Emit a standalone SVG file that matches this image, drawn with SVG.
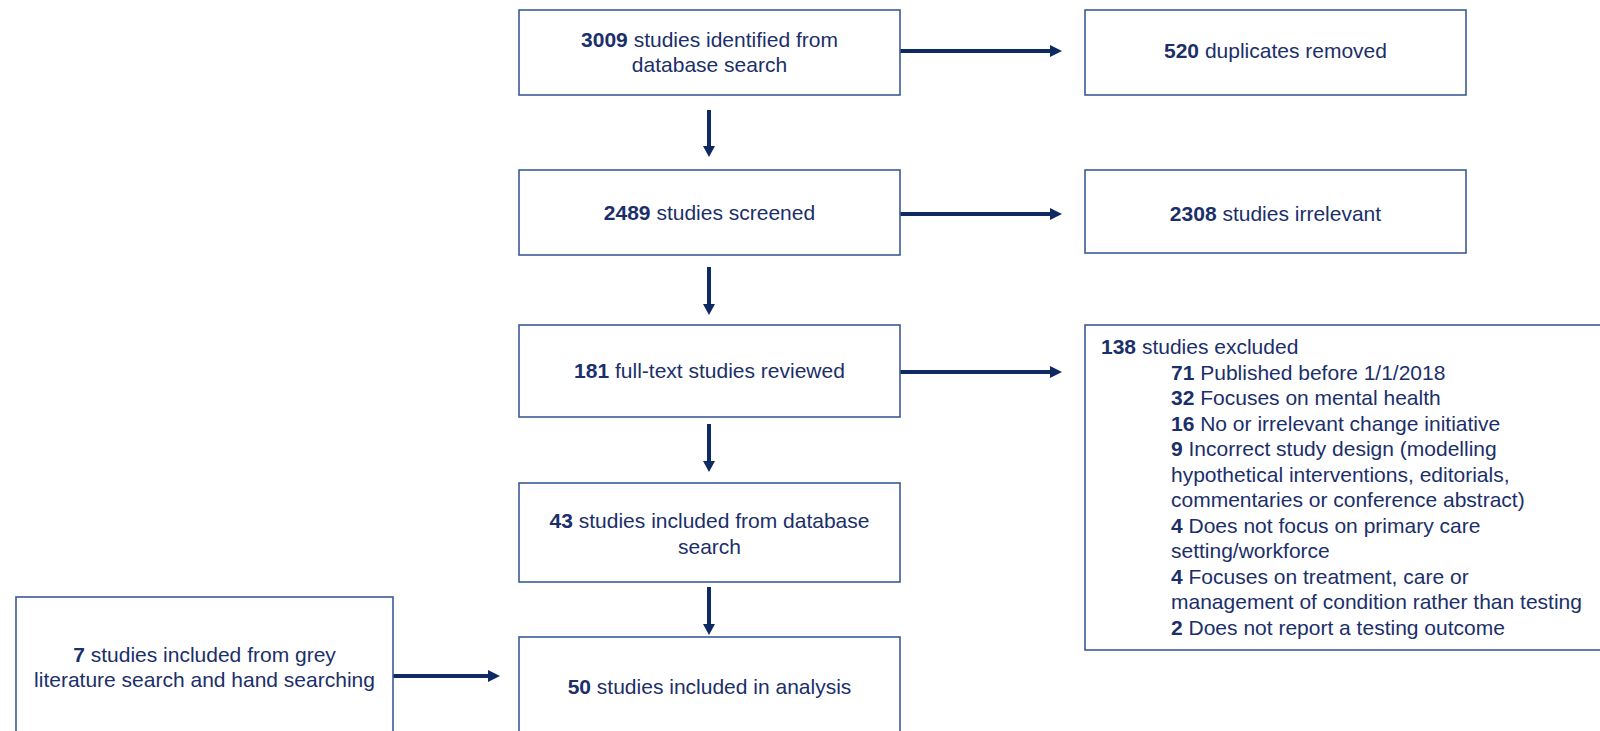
<svg xmlns="http://www.w3.org/2000/svg" width="1600" height="731" viewBox="0 0 1600 731">
<defs>
<style>
.box{fill:#ffffff;stroke:#3d5a93;stroke-width:1.6}
.t{font-family:"Liberation Sans",Arial,sans-serif;font-size:21px;fill:#1b2f6a}
.c{text-anchor:middle}
.b{font-weight:bold}
.ln{stroke:#0f2a63;stroke-width:4;fill:none}
.hd{fill:#0f2a63}
</style>
</defs>
<rect width="1600" height="731" fill="#ffffff"/>
<g id="connectors">
<line class="ln" x1="900" y1="51" x2="1052" y2="51"/><polygon class="hd" points="1062,51 1050,45 1050,57"/>
<line class="ln" x1="900" y1="214" x2="1052" y2="214"/><polygon class="hd" points="1062,214 1050,208 1050,220"/>
<line class="ln" x1="900" y1="372" x2="1052" y2="372"/><polygon class="hd" points="1062,372 1050,366 1050,378"/>
<line class="ln" x1="393" y1="676" x2="490" y2="676"/><polygon class="hd" points="500,676 488,670 488,682"/>
<line class="ln" x1="709" y1="110" x2="709" y2="148"/><polygon class="hd" points="709,157 703,146 715,146"/>
<line class="ln" x1="709" y1="267" x2="709" y2="306"/><polygon class="hd" points="709,315 703,304 715,304"/>
<line class="ln" x1="709" y1="424" x2="709" y2="463"/><polygon class="hd" points="709,472 703,461 715,461"/>
<line class="ln" x1="709" y1="587" x2="709" y2="626"/><polygon class="hd" points="709,635 703,624 715,624"/>
</g>
<g id="n1"><rect class="box" x="519" y="10" width="381" height="85"/>
<text class="t c" x="709.5" y="47"><tspan class="b">3009</tspan> studies identified from</text>
<text class="t c" x="709.5" y="72">database search</text></g>
<g id="n2"><rect class="box" x="1085" y="10" width="381" height="85"/>
<text class="t c" x="1275.5" y="58"><tspan class="b">520</tspan> duplicates removed</text></g>
<g id="n3"><rect class="box" x="519" y="170" width="381" height="85"/>
<text class="t c" x="709.5" y="220"><tspan class="b">2489</tspan> studies screened</text></g>
<g id="n4"><rect class="box" x="1085" y="170" width="381" height="83"/>
<text class="t c" x="1275.5" y="221"><tspan class="b">2308</tspan> studies irrelevant</text></g>
<g id="n5"><rect class="box" x="519" y="325" width="381" height="92"/>
<text class="t c" x="709.5" y="378"><tspan class="b">181</tspan> full-text studies reviewed</text></g>
<g id="n6"><rect class="box" x="1085" y="325" width="540" height="325"/>
<text class="t" x="1101" y="354"><tspan class="b">138</tspan> studies excluded</text>
<text class="t" x="1171" y="379.5"><tspan class="b">71</tspan> Published before 1/1/2018</text>
<text class="t" x="1171" y="405"><tspan class="b">32</tspan> Focuses on mental health</text>
<text class="t" x="1171" y="430.5"><tspan class="b">16</tspan> No or irrelevant change initiative</text>
<text class="t" x="1171" y="456"><tspan class="b">9</tspan> Incorrect study design (modelling</text>
<text class="t" x="1171" y="481.5">hypothetical interventions, editorials,</text>
<text class="t" x="1171" y="507">commentaries or conference abstract)</text>
<text class="t" x="1171" y="532.5"><tspan class="b">4</tspan> Does not focus on primary care</text>
<text class="t" x="1171" y="558">setting/workforce</text>
<text class="t" x="1171" y="583.5"><tspan class="b">4</tspan> Focuses on treatment, care or</text>
<text class="t" x="1171" y="609">management of condition rather than testing</text>
<text class="t" x="1171" y="634.5"><tspan class="b">2</tspan> Does not report a testing outcome</text></g>
<g id="n7"><rect class="box" x="519" y="483" width="381" height="99"/>
<text class="t c" x="709.5" y="528"><tspan class="b">43</tspan> studies included from database</text>
<text class="t c" x="709.5" y="554">search</text></g>
<g id="n8"><rect class="box" x="16" y="597" width="377" height="145"/>
<text class="t c" x="204.5" y="662"><tspan class="b">7</tspan> studies included from grey</text>
<text class="t c" x="204.5" y="687">literature search and hand searching</text></g>
<g id="n9"><rect class="box" x="519" y="637" width="381" height="110"/>
<text class="t c" x="709.5" y="694"><tspan class="b">50</tspan> studies included in analysis</text></g>
</svg>
